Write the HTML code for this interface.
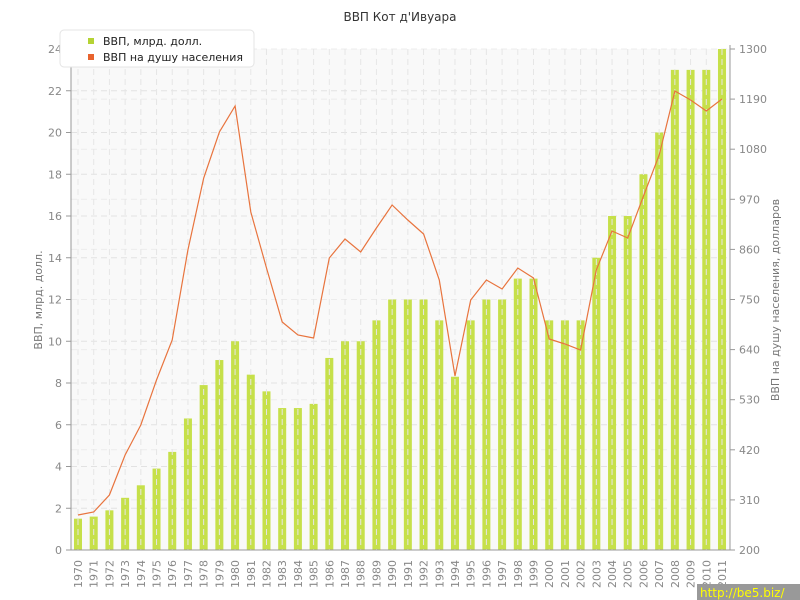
<!DOCTYPE html>
<html><head><meta charset="utf-8"><style>
body{margin:0;background:#fff;width:800px;height:600px;overflow:hidden;font-family:"DejaVu Sans","Liberation Sans",sans-serif;}
svg{display:block}
</style></head><body>
<svg id="s" width="800" height="600" xmlns="http://www.w3.org/2000/svg" font-family="DejaVu Sans, Liberation Sans, sans-serif">
<rect x="71" y="49" width="659" height="501" fill="#f9f9f9"/>
<text x="400" y="21" text-anchor="middle" font-size="12" fill="#333">ВВП Кот д'Ивуара</text>
<g id="g"></g>
<rect x="60" y="30" width="194" height="37" rx="4" fill="#fff" stroke="#e4e4e4"/>
<rect x="88" y="38" width="6" height="6" fill="#b5d334"/>
<text x="103" y="45" font-size="11" fill="#222">ВВП, млрд. долл.</text>
<rect x="88" y="54" width="6" height="6" fill="#e8632e"/>
<text x="103" y="61" font-size="11" fill="#222">ВВП на душу населения</text>
<text transform="translate(42,300) rotate(-90)" text-anchor="middle" font-size="11" fill="#777">ВВП, млрд. долл.</text>
<text transform="translate(779,300) rotate(-90)" text-anchor="middle" font-size="11" fill="#777">ВВП на душу населения, долларов</text>
<rect x="697" y="584" width="103" height="16" fill="#999"/>
<text x="700" y="597" font-size="12" fill="#ff0">http://be5.biz/</text>
</svg>
<script>
var g=document.getElementById('g'),h='';
var gdp=[1.5,1.6,1.9,2.5,3.1,3.9,4.7,6.3,7.9,9.1,10,8.4,7.6,6.8,6.8,7,9.2,10,10,11,12,12,12,11,8.3,11,12,12,13,13,11,11,11,14,16,16,18,20,23,23,23,24];
var py=[515,512,495,455,425,380,340,250,178,132,106,212,268,322,335,338,258,239,252,228,205,220,234,280,376,300,280,289,268,278,339,344,350,270,231,238,196,155,91,100,111,99];
function X(i){return 78+i*15.707;}
function Y(v){return 550-v*20.875;}
for(var v=0;v<=24;v+=2){var y=Y(v);
 if(v>0)h+='<line x1="71" x2="730" y1="'+y+'" y2="'+y+'" stroke="#e2e2e2" stroke-dasharray="6,4"/>';
 h+='<line x1="66" x2="71" y1="'+y+'" y2="'+y+'" stroke="#999"/><text x="62" y="'+(y+4)+'" text-anchor="end" font-size="11" fill="#888">'+v+'</text>';}
for(var r=200;r<=1300;r+=110){var y=550-(r-200)*501/1100;
 if(r>200)h+='<line x1="71" x2="730" y1="'+y+'" y2="'+y+'" stroke="#ececec" stroke-dasharray="6,4"/>';
 h+='<line x1="730" x2="735" y1="'+y+'" y2="'+y+'" stroke="#999"/><text x="739" y="'+(y+4)+'" font-size="11" fill="#888">'+r+'</text>';}
for(var i=0;i<42;i++){var x=X(i),y=Y(gdp[i]);
 h+='<rect x="'+(x-4)+'" y="'+y+'" width="8" height="'+(550-y)+'" fill="#c6e04a"/>';
 h+='<line x1="'+x+'" x2="'+x+'" y1="49" y2="550" stroke="#e6e6e6" stroke-dasharray="6,4"/>';
 h+='<text transform="translate('+(x+4)+',588) rotate(-90)" font-size="11" fill="#888">'+(1970+i)+'</text>';}
var p='';for(var i=0;i<42;i++)p+=(i?'L':'M')+X(i).toFixed(1)+','+py[i];
h+='<path d="'+p+'" fill="none" stroke="#e8743e" stroke-width="1.2"/>';
h+='<line x1="71" x2="71" y1="45" y2="550" stroke="#999"/><line x1="730" x2="730" y1="45" y2="550" stroke="#999"/><line x1="71" x2="730" y1="550" y2="550" stroke="#999"/>';
g.innerHTML=h;
</script>
</body></html>
